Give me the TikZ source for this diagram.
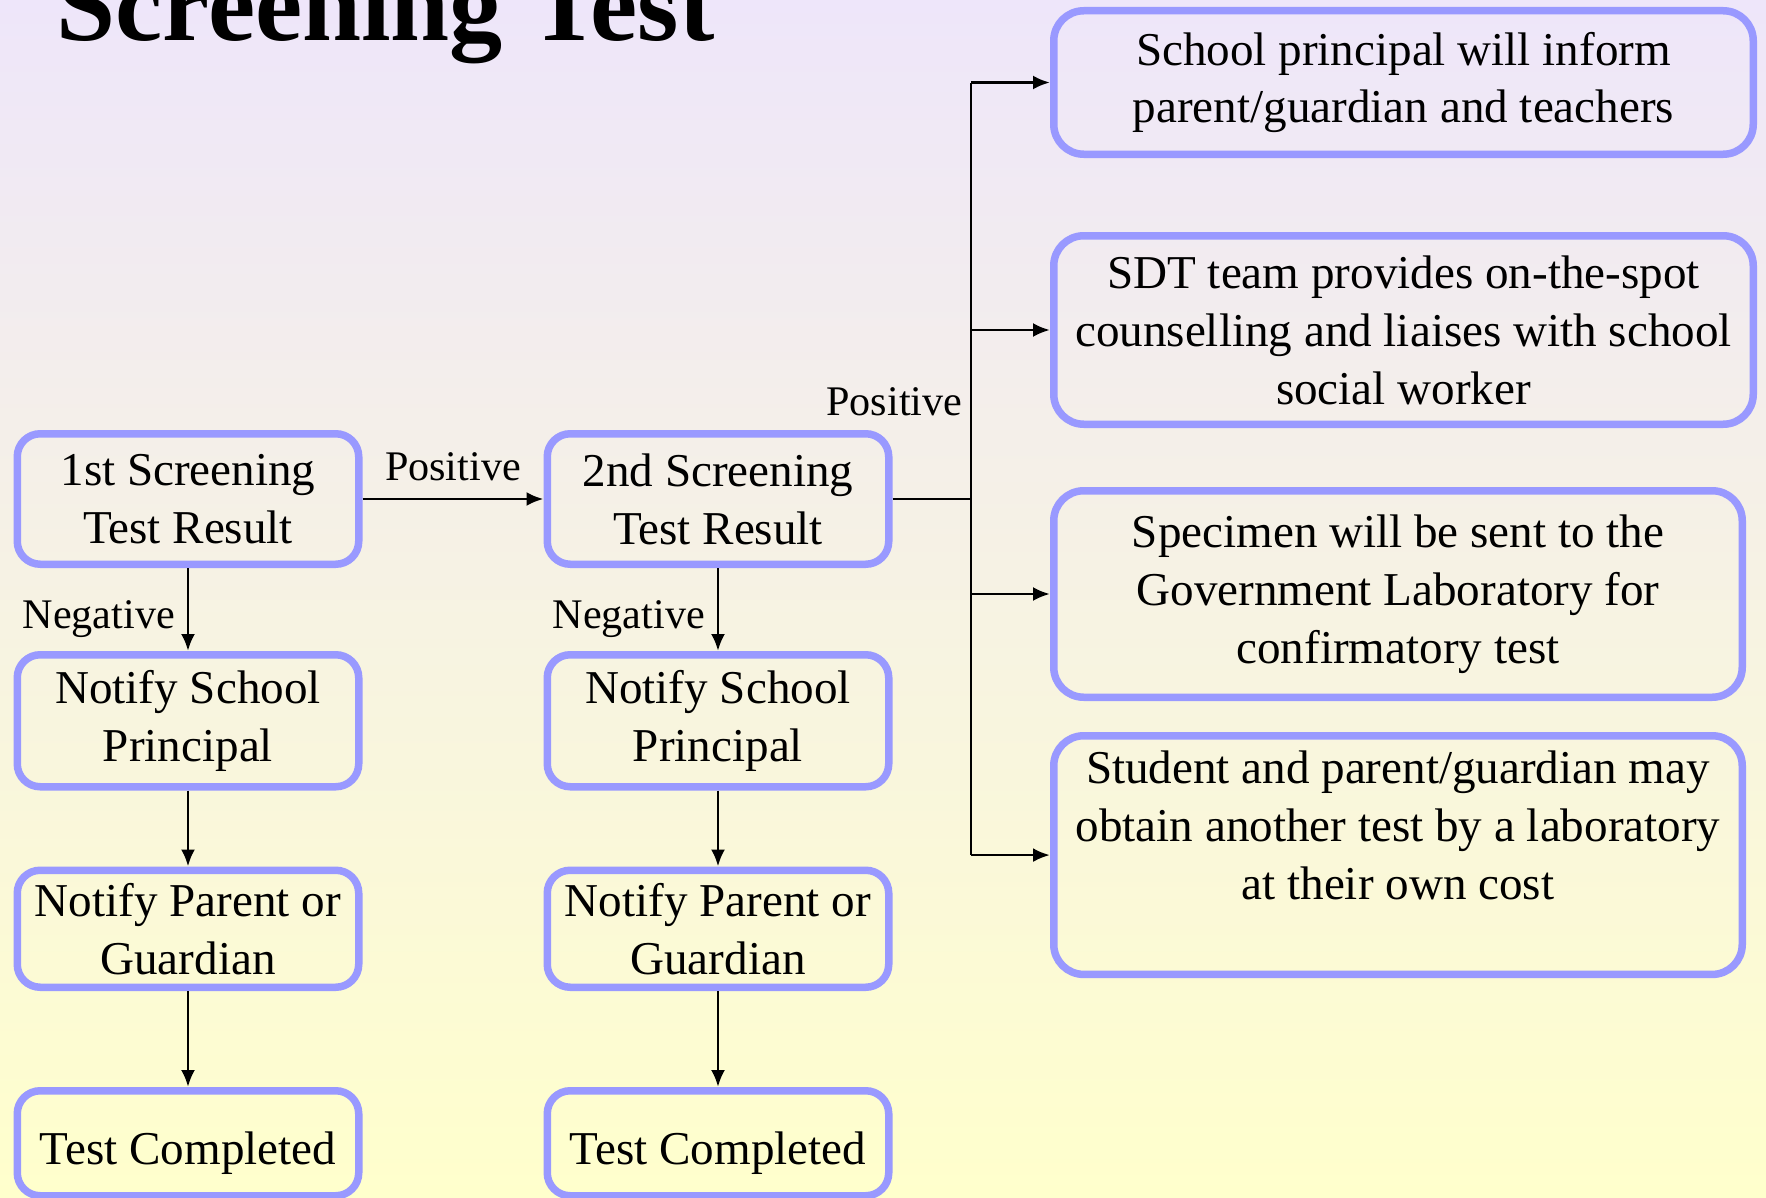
\documentclass[tikz,border=0pt]{standalone}
\usepackage{fontspec}
\setmainfont{Liberation Serif}
\usetikzlibrary{arrows,arrows.meta,shapes,positioning}
\definecolor{boxline}{RGB}{153,153,255}
\definecolor{bgtop}{RGB}{238,230,250}
\definecolor{bgbottom}{RGB}{255,255,204}
\newcommand\flowfont{\fontsize{13.4}{16.5}\selectfont}
\newcommand\edgefont{\fontsize{12}{14}\selectfont}
\tikzstyle{result} = [rectangle, rounded corners=2.3mm, minimum width=3.415cm, text centered, align=center, draw=boxline, line width=0.75mm, font=\flowfont, inner sep=0pt]
\tikzstyle{lowered} = [execute at begin node={\rule{0pt}{0.6cm}}]
\tikzstyle{action} = [rectangle, rounded corners=3mm, minimum width=6.995cm, text centered, align=center, draw=boxline, line width=0.75mm, font=\flowfont, inner sep=0pt]
\tikzstyle{arrow} = [line width=0.8pt,-{Latex[length=1.7mm,width=1.4mm]}]
\tikzstyle{trunk} = [line width=0.8pt]
\tikzstyle{edgelabel} = [font=\edgefont]

\begin{document}
\begin{tikzpicture}
\shade [top color=bgtop, bottom color=bgbottom] (0,0) rectangle (17.66,-11.98);
\useasboundingbox (0,0) rectangle (17.66,-11.98);
\clip (0,0) rectangle (17.66,-11.98);

\node (title) [anchor=base west, inner sep=0pt, font=\fontsize{30.2}{31}\selectfont\bfseries] at (0.56,-0.40) {Screening Test};

% first test
\node (first)   [result, minimum height=1.305cm] at (1.88,-4.99) {1st Screening\\Test Result};
\node (notifyA) [result, lowered, minimum height=1.32cm, below=0.83cm of first] {Notify School\\Principal};
\node (parentA) [result, lowered, minimum height=1.17cm, below=0.76cm of notifyA] {Notify Parent or\\Guardian};
\node (doneA)   [result, minimum height=1.05cm, text height=0.53cm, below=0.96cm of parentA] {Test Completed};

% second test
\node (second)  [result, minimum height=1.305cm, right=1.81cm of first] {2nd Screening\\Test Result};
\node (notifyB) [result, lowered, minimum height=1.32cm, below=0.83cm of second] {Notify School\\Principal};
\node (parentB) [result, lowered, minimum height=1.17cm, below=0.76cm of notifyB] {Notify Parent or\\Guardian};
\node (doneB)   [result, minimum height=1.05cm, text height=0.53cm, below=0.96cm of parentB] {Test Completed};

% follow-up actions
\node (inform)   [action, minimum height=1.435cm] at (14.035,-0.825) {School principal will inform\\parent/guardian and teachers};
\node (counsel)  [action, minimum height=1.885cm, below=0.74cm of inform] {SDT team provides on-the-spot\\counselling and liaises with school\\social worker};
\node (specimen) [action, minimum width=6.885cm, minimum height=2.065cm, below=0.59cm of counsel.south west, anchor=north west] {Specimen will be sent to the\\Government Laboratory for\\confirmatory test};
\node (retest)   [action, minimum width=6.885cm, inner ysep=1.5mm, text depth=0.6cm, below=0.31cm of specimen.south west, anchor=north west] {Student and parent/guardian may\\obtain another test by a laboratory\\at their own cost};

\coordinate (junc) at (9.71,-4.99);
\node (pos2) [edgelabel, anchor=base east, inner sep=0pt] at (9.63,-4.15) {Positive};

\draw [arrow] (first) -- node[edgelabel, above, yshift=0.05cm] (pos1) {Positive} (second);
\draw [arrow] (first) -- node[edgelabel, left, pos=0.62] (neg1) {Negative} (notifyA);
\draw [arrow] (notifyA) -- (parentA);
\draw [arrow] (parentA) -- (doneA);
\draw [arrow] (second) -- node[edgelabel, left, pos=0.62] (neg2) {Negative} (notifyB);
\draw [arrow] (notifyB) -- (parentB);
\draw [arrow] (parentB) -- (doneB);

\draw [trunk] (second.east) -- (junc);
\draw [trunk] (junc |- inform.west) -- (junc |- retest.west);
\draw [arrow] (junc |- inform.west) -- (inform.west);
\draw [arrow] (junc |- counsel.west) -- (counsel.west);
\draw [arrow] (junc |- specimen.west) -- (specimen.west);
\draw [arrow] (junc |- retest.west) -- (retest.west);
\end{tikzpicture}
\end{document}
